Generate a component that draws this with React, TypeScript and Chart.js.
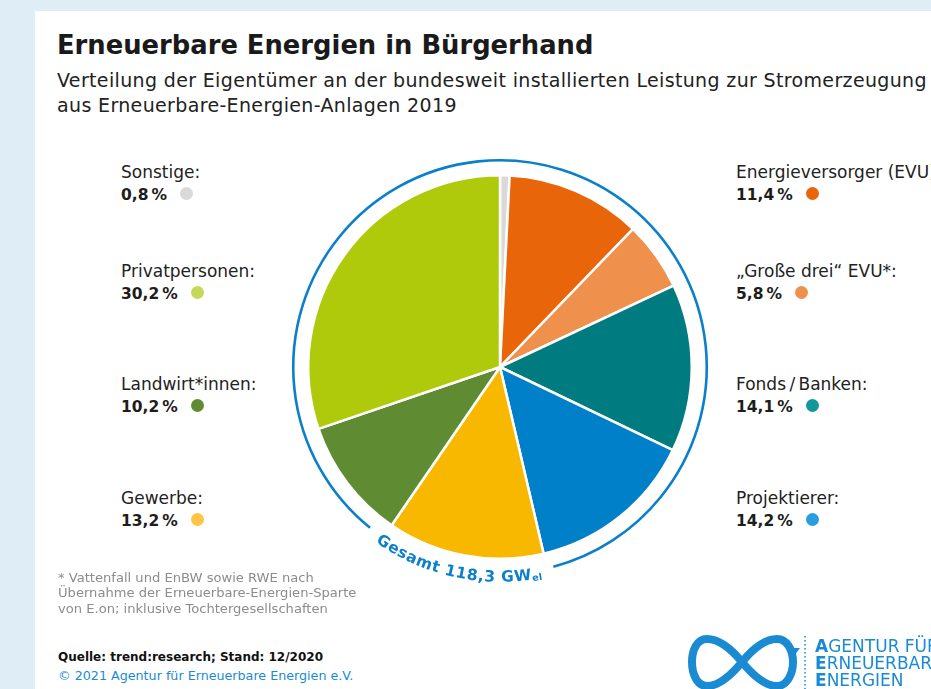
import React, { useEffect, useRef } from "react";
import { Chart, registerables } from "chart.js";

Chart.register(...registerables);

// ---- data ----
const categories = [
  "Sonstige:",
  "Energieversorger (EVU):",
  "„Große drei“ EVU*:",
  "Fonds\u2009/\u2009Banken:",
  "Projektierer:",
  "Gewerbe:",
  "Landwirt*innen:",
  "Privatpersonen:",
];
const shares = [0.8, 11.4, 5.8, 14.1, 14.2, 13.2, 10.2, 30.2];
const shareLabels = ["0,8\u2009%", "11,4\u2009%", "5,8\u2009%", "14,1\u2009%", "14,2\u2009%", "13,2\u2009%", "10,2\u2009%", "30,2\u2009%"];
const sliceColors = ["#d9d9d9", "#e8650a", "#f0904d", "#007b7f", "#0080c8", "#f9b800", "#5f8c33", "#afca0b"];
const dotColors = ["#d9d9d9", "#e8650a", "#f0904d", "#15989b", "#2a9de0", "#fdc543", "#5f8c33", "#c6d85a"];
const leftSlots = [0, 7, 6, 5];
const rightSlots = [1, 2, 3, 4];
const totalLabel = "Gesamt 118,3 GW";
const totalUnit = "el";

const titleText = "Erneuerbare Energien in Bürgerhand";
const subtitleLines = [
  "Verteilung der Eigentümer an der bundesweit installierten Leistung zur Stromerzeugung",
  "aus Erneuerbare-Energien-Anlagen 2019",
];
const footnoteLines = [
  "* Vattenfall und EnBW sowie RWE nach",
  "Übernahme der Erneuerbare-Energien-Sparte",
  "von E.on; inklusive Tochtergesellschaften",
];
const sourceText = "Quelle: trend:research; Stand: 12/2020";
const copyrightText = "© 2021 Agentur für Erneuerbare Energien e.V.";
const logoLines = ["AGENTUR FÜR", "ERNEUERBARE", "ENERGIEN"];

const FONT = "'DejaVu Sans', sans-serif";
const BLUE = "#0a7fcb";
const LOGO_BLUE = "#1a8bd3";

function T(props: any) {
  const { x, b, size, weight = 400, color = "#1d1d1b", spacing = 0, children } = props;
  return (
    <div
      style={{
        position: "absolute",
        left: x,
        top: b - 0.928 * size,
        fontFamily: FONT,
        fontSize: size,
        lineHeight: `${1.164 * size}px`,
        fontWeight: weight,
        letterSpacing: spacing,
        color,
        whiteSpace: "nowrap",
      }}
    >
      {children}
    </div>
  );
}

const slotBaselines = [179, 278, 391, 505];

function LegendItem(props: any) {
  const { idx, x, b } = props;
  return (
    <>
      <T x={x} b={b} size={17} color="#222">{categories[idx]}</T>
      <T x={x} b={b + 21.5} size={15.5} weight={700} color="#1d1d1b">
        {shareLabels[idx]}
        <span
          style={{
            display: "inline-block",
            width: 13,
            height: 13,
            borderRadius: "50%",
            background: dotColors[idx],
            marginLeft: 13,
            verticalAlign: 0,
          }}
        />
      </T>
    </>
  );
}

export default function App() {
  const ref = useRef<HTMLCanvasElement>(null);

  useEffect(() => {
    const canvas = ref.current!;
    const ringPlugin = {
      id: "totalRing",
      afterDatasetsDraw(chart: any) {
        const arc = chart.getDatasetMeta(0).data[0] as any;
        if (!arc) return;
        const cx = arc.x;
        const cy = arc.y;
        const R = arc.outerRadius;
        const ctx = chart.ctx as CanvasRenderingContext2D;
        ctx.save();
        const mainFont = `bold 15.5px ${FONT}`;
        const subFont = `bold 9.5px ${FONT}`;
        const rMid = R + 17;
        const rBase = R + 23;
        const spacing = 0.3;
        const pieces = [
          ...[...totalLabel].map((ch) => ({ ch, font: mainFont, dy: 0 })),
          ...[...totalUnit].map((ch) => ({ ch, font: subFont, dy: 2 })),
        ];
        let total = 0;
        const widths = pieces.map((p) => {
          ctx.font = p.font;
          const w = ctx.measureText(p.ch).width;
          total += w + spacing;
          return w;
        });
        const mid = (102 * Math.PI) / 180;
        let theta = mid + total / 2 / rMid;
        const start = theta;
        ctx.fillStyle = BLUE;
        ctx.textAlign = "center";
        ctx.textBaseline = "alphabetic";
        pieces.forEach((p, i) => {
          const w = widths[i];
          const tc = theta - w / 2 / rMid;
          const rb = rBase + p.dy;
          ctx.save();
          ctx.translate(cx + rb * Math.cos(tc), cy + rb * Math.sin(tc));
          ctx.rotate(tc - Math.PI / 2);
          ctx.font = p.font;
          ctx.fillText(p.ch, 0, 0);
          ctx.restore();
          theta -= (w + spacing) / rMid;
        });
        const end = theta;
        const gap = (3.5 * Math.PI) / 180;
        ctx.beginPath();
        ctx.arc(cx, cy, R + 15, start + gap, end - gap + Math.PI * 2);
        ctx.strokeStyle = BLUE;
        ctx.lineWidth = 2.6;
        ctx.stroke();
        ctx.restore();
      },
    };

    const chart = new Chart(canvas, {
      type: "pie",
      data: {
        labels: categories,
        datasets: [
          {
            data: shares,
            backgroundColor: sliceColors,
            borderColor: "#ffffff",
            borderWidth: 2.5,
          },
        ],
      },
      options: {
        responsive: false,
        animation: false,
        devicePixelRatio: 1,
        events: [],
        layout: { padding: 37 },
        plugins: {
          legend: { display: false },
          tooltip: { enabled: false },
        },
      },
      plugins: [ringPlugin],
    } as any);
    return () => chart.destroy();
  }, []);

  return (
    <div
      style={{
        position: "fixed",
        left: 0,
        top: 0,
        width: 931,
        height: 689,
        overflow: "hidden",
        background: "#deedf6",
      }}
    >
      <div
        style={{
          position: "absolute",
          left: 35,
          top: 11,
          width: 920,
          height: 700,
          background: "#ffffff",
        }}
      />
      <T x={57} b={54} size={25.8} weight={700} color="#1a1a1a">{titleText}</T>
      <T x={57} b={87} size={19} spacing={0.35} color="#222">{subtitleLines[0]}</T>
      <T x={57} b={112} size={19} spacing={0.35} color="#222">{subtitleLines[1]}</T>

      <canvas
        ref={ref}
        width={460}
        height={460}
        style={{ position: "absolute", left: 270, top: 137, width: 460, height: 460, display: "block" }}
      />

      {leftSlots.map((idx, i) => (
        <LegendItem key={"l" + idx} idx={idx} x={121} b={slotBaselines[i]} />
      ))}
      {rightSlots.map((idx, i) => (
        <LegendItem key={"r" + idx} idx={idx} x={736} b={slotBaselines[i]} />
      ))}

      {footnoteLines.map((line, i) => (
        <T key={"f" + i} x={58} b={582 + i * 15.5} size={13.1} color="#8c8c8c">{line}</T>
      ))}
      <T x={58} b={662} size={12} weight={700} color="#111">{sourceText}</T>
      <T x={58} b={681} size={12.7} color={LOGO_BLUE}>{copyrightText}</T>

      <svg
        width={931}
        height={689}
        style={{ position: "absolute", left: 0, top: 0, pointerEvents: "none" }}
      >
        <path
          d="M742,662 C756,645 768,639 777,639 C787,639 793,650 793,662 C793,674 787,686 777,686 C768,686 756,679 742,662 C728,645 716,639 707,639 C697,639 692,650 692,662 C692,674 697,686 707,686 C716,686 728,679 742,662 Z"
          fill="none"
          stroke={LOGO_BLUE}
          strokeWidth={8}
        />
        <polygon points="787,648 800,648 794,656" fill={LOGO_BLUE} />
        <line x1={805} y1={636} x2={805} y2={689} stroke={LOGO_BLUE} strokeWidth={1.5} strokeDasharray="1.5 2.5" />
        {logoLines.map((line, i) => (
          <text
            key={"g" + i}
            x={815}
            y={652 + i * 17}
            fontFamily={FONT}
            fontSize={17}
            fill={LOGO_BLUE}
          >
            <tspan fontWeight={700}>{line[0]}</tspan>
            {line.slice(1)}
          </text>
        ))}
      </svg>
    </div>
  );
}
